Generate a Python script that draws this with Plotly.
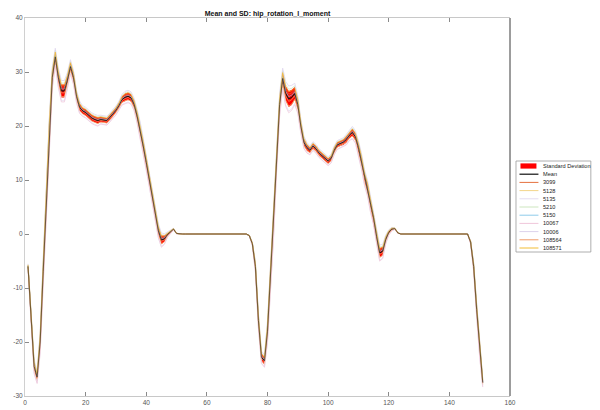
import plotly.graph_objects as go

# ---------------- data ----------------
frames = list(range(1, 152))

mean_vals = [
    -6, -16, -24.5, -26.5, -20, -7, 6, 19, 29, 32.8,
    29, 26.5, 26.5, 28.5, 31, 29, 25.5, 23.5, 22.8, 22.5,
    22, 21.5, 21.2, 21, 21.2, 21.1, 21, 21.6, 22.2, 22.9,
    23.8, 24.9, 25.3, 25.5, 25.2, 24, 21.8, 19.3, 16.3, 13.3,
    10.3, 7.2, 3.8, 0.6, -1.1, -0.9, -0.1, 0.4, 0.9, 0.1,
    0, 0, 0, 0, 0, 0, 0, 0, 0, 0,
    0, 0, 0, 0, 0, 0, 0, 0, 0, 0,
    0, 0, 0, -0.3, -1.8, -6, -16, -22.8, -23.5, -18,
    -8, 2, 14, 24, 28.8, 26, 25, 25.3, 26, 24,
    20, 17, 16, 15.5, 16.3, 15.8, 15, 14.5, 14, 13.5,
    14, 15.5, 16.5, 16.8, 17, 17.5, 18.3, 18.8, 18, 16,
    13.5, 10.5, 8.5, 5.5, 3, -0.5, -3.5, -3.2, -1, 0.3,
    0.9, 1, 0.2, 0, 0, 0, 0, 0, 0, 0,
    0, 0, 0, 0, 0, 0, 0, 0, 0, 0,
    0, 0, 0, 0, 0, 0, -1.5, -6, -14, -21.5,
    -27.5,
]

sd_vals = [
    0.3, 0.8, 0.8, 0.7, 1.2, 1.5, 1.6, 1.5, 1.2, 1.0,
    1.1, 1.2, 1.2, 0.9, 0.8, 0.8, 0.7, 0.7, 0.6, 0.6,
    0.6, 0.6, 0.6, 0.6, 0.5, 0.5, 0.5, 0.5, 0.5, 0.5,
    0.5, 0.6, 0.7, 0.7, 0.7, 0.7, 0.8, 0.9, 0.9, 0.9,
    0.9, 0.9, 0.8, 0.8, 0.8, 0.6, 0.3, 0.2, 0.1, 0.05,
    0, 0, 0, 0, 0, 0, 0, 0, 0, 0,
    0, 0, 0, 0, 0, 0, 0, 0, 0, 0,
    0, 0, 0, 0.05, 0.2, 0.6, 0.9, 0.7, 0.7, 1.2,
    1.5, 1.6, 1.5, 1.3, 1.2, 1.4, 1.5, 1.4, 1.2, 1.0,
    0.8, 0.7, 0.6, 0.5, 0.5, 0.5, 0.5, 0.5, 0.5, 0.5,
    0.5, 0.5, 0.5, 0.5, 0.5, 0.6, 0.6, 0.7, 0.7, 0.8,
    0.9, 0.9, 0.9, 0.9, 0.8, 0.8, 0.9, 0.8, 0.5, 0.3,
    0.2, 0.1, 0.05, 0, 0, 0, 0, 0, 0, 0,
    0, 0, 0, 0, 0, 0, 0, 0, 0, 0,
    0, 0, 0, 0, 0, 0, 0.2, 0.5, 0.8, 0.8,
    0.5,
]

trial_names = ["3099", "5128", "5135", "5210", "5150", "10067", "10006", "108564", "108571"]
trial_colors = ["#E5703E", "#F3D68A", "#E4DCF0", "#CDE6BF", "#8ECBEA", "#F0C6DA", "#DCD2EC", "#F09A68", "#F2BD35"]
# position of each trial relative to the mean, in SD units
trial_z = [0.6, -0.9, -1.5, 1.2, 0.3, -1.7, 1.6, -0.3, 0.9]

title_text = "Mean and SD: hip_rotation_l_moment"
x_ticks = [0, 20, 40, 60, 80, 100, 120, 140, 160]
y_ticks = [-30, -20, -10, 0, 10, 20, 30, 40]

# ---------------- figure ----------------
# the page body adds an 8 px offset, so figure coordinates = screen coordinates - 8
OFF = 8
W, H = 600 - OFF, 410 - OFF
L, R, T, B = 24.5 - OFF, 510.5 - OFF, 18 - OFF, 396 - OFF

fig = go.Figure()

upper = [m + s for m, s in zip(mean_vals, sd_vals)]
lower = [m - s for m, s in zip(mean_vals, sd_vals)]
fig.add_trace(go.Scatter(
    x=frames + frames[::-1], y=upper + lower[::-1],
    fill="toself", fillcolor="#FF0000", line=dict(width=0, color="#FF0000"),
    mode="lines", hoverinfo="skip", showlegend=False, name="Standard Deviation"))

fig.add_trace(go.Scatter(x=frames, y=mean_vals, mode="lines",
                         line=dict(color="#1a1a1a", width=1.0), showlegend=False, name="Mean"))

for name, col, z in zip(trial_names, trial_colors, trial_z):
    fig.add_trace(go.Scatter(
        x=frames, y=[m + z * s for m, s in zip(mean_vals, sd_vals)],
        mode="lines", line=dict(color=col, width=0.8), opacity=0.9, showlegend=False, name=name))

# mean drawn again faintly on top so it stays readable inside the band
fig.add_trace(go.Scatter(x=frames, y=mean_vals, mode="lines",
                         line=dict(color="#1a1a1a", width=0.8), opacity=0.75,
                         showlegend=False, hoverinfo="skip"))


def px_x(p):
    return (p - OFF - L) / (R - L)


def px_y(p):
    return (B - (p - OFF)) / (B - T)


shapes = []
annotations = []

# right border of the axes box (dark)
shapes.append(dict(type="line", xref="paper", yref="paper", x0=1, x1=1, y0=0, y1=1,
                   line=dict(color="#3a3a3a", width=1)))

# compact legend
leg_left, leg_right, leg_top, leg_bot = 516.5, 591.5, 161, 252
shapes.append(dict(type="rect", xref="paper", yref="paper",
                   x0=px_x(leg_left), x1=px_x(leg_right), y0=px_y(leg_bot), y1=px_y(leg_top),
                   line=dict(color="#9a9a9a", width=0.8), fillcolor="white", layer="above"))

leg_labels = ["Standard Deviation", "Mean"] + trial_names
leg_colors = ["#FF0000", "#111111"] + trial_colors
row0, dy = 166, 8.2
for i, (lab, col) in enumerate(zip(leg_labels, leg_colors)):
    yc = row0 + i * dy
    if i == 0:
        shapes.append(dict(type="rect", xref="paper", yref="paper",
                           x0=px_x(521), x1=px_x(537), y0=px_y(yc + 2.6), y1=px_y(yc - 2.6),
                           line=dict(width=0), fillcolor=col, layer="above"))
    else:
        shapes.append(dict(type="line", xref="paper", yref="paper",
                           x0=px_x(520), x1=px_x(539), y0=px_y(yc), y1=px_y(yc),
                           line=dict(color=col, width=1.2 if i == 1 else 1.0), layer="above"))
    annotations.append(dict(xref="paper", yref="paper", x=px_x(541.5), y=px_y(yc),
                            text=lab, showarrow=False, xanchor="left", yanchor="middle",
                            font=dict(size=5.6, color="#222222", family="Liberation Sans, Arial")))

fig.update_layout(
    width=W, height=H,
    paper_bgcolor="white", plot_bgcolor="white",
    margin=dict(l=L, r=W - R, t=T, b=H - B, pad=0, autoexpand=False),
    title=dict(text="<b>" + title_text + "</b>", x=(L + R) / 2 / W, xanchor="center",
               y=1 - (14 - OFF) / H, yanchor="middle",
               font=dict(size=7, color="#111111", family="Liberation Sans, Arial")),
    showlegend=False,
    shapes=shapes, annotations=annotations,
    font=dict(family="Liberation Sans, Arial", size=6.5, color="#555555"),
)

fig.update_xaxes(range=[0, 160], tickvals=x_ticks, ticktext=[str(v) for v in x_ticks],
                 showgrid=False, zeroline=False, showline=True, linecolor="#c8c8c8", linewidth=1,
                 mirror="ticks", ticks="inside", ticklen=4, tickcolor="#8a8a8a",
                 tickfont=dict(size=6.5, color="#555555"), automargin=False)
fig.update_yaxes(range=[-30, 40], tickvals=y_ticks, ticktext=[str(v) for v in y_ticks],
                 showgrid=False, zeroline=False, showline=True, linecolor="#d0d0d0", linewidth=1,
                 ticks="inside", ticklen=4, tickcolor="#8a8a8a",
                 tickfont=dict(size=6.5, color="#555555"), automargin=False)

fig.write_html("out.html")
